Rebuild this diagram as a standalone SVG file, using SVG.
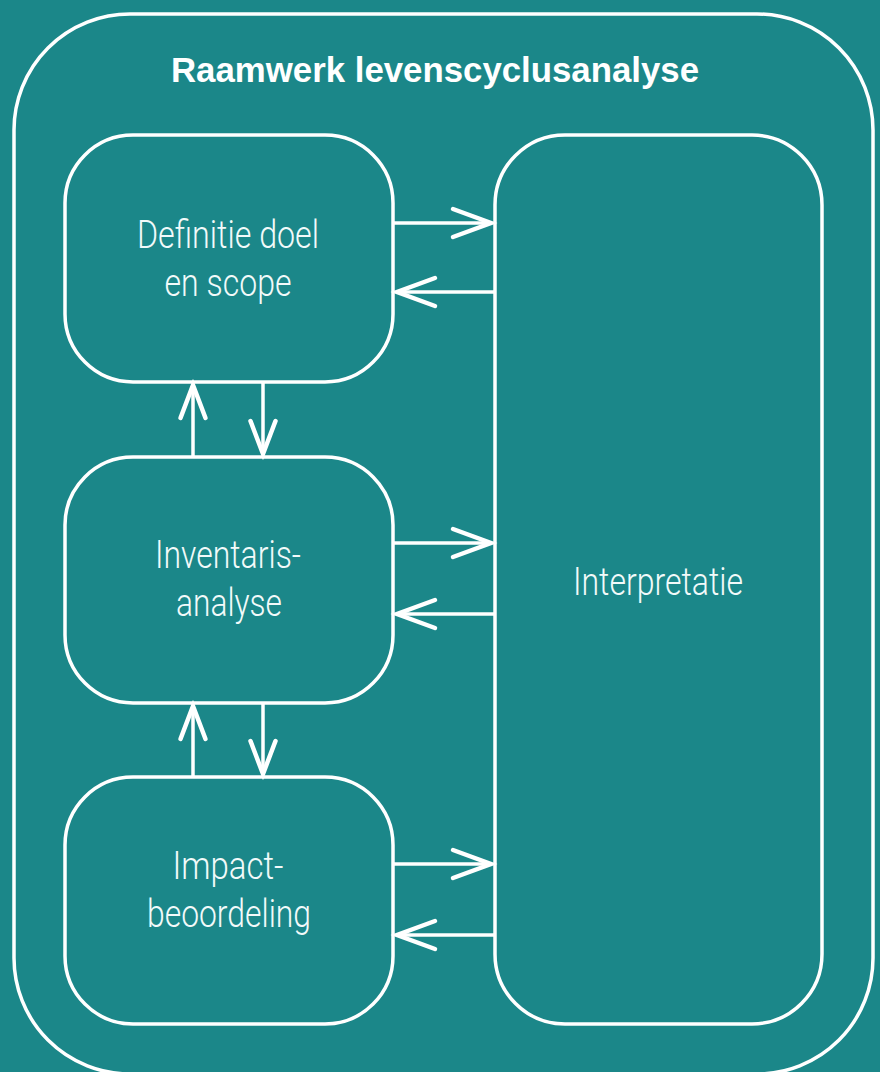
<svg xmlns="http://www.w3.org/2000/svg" width="880" height="1072" viewBox="0 0 880 1072">
  <defs>
    <style>
      .box { fill: none; stroke: #ffffff; stroke-width: 3.5; }
      .conn { fill: none; stroke: #ffffff; stroke-width: 3.5; }
      .lbl { font-family: Roboto, "Liberation Sans", sans-serif; font-weight: 300; font-size: 38px; fill: #f2fafa; text-anchor: middle; }
      .title { font-family: "Liberation Sans", Arial, sans-serif; font-weight: bold; font-size: 35px; fill: #ffffff; text-anchor: middle; }
    </style>
    <marker id="ah" markerUnits="userSpaceOnUse" markerWidth="50" markerHeight="40" viewBox="-45 -20 50 40" refX="0" refY="0" orient="auto" overflow="visible">
      <path d="M-38,-14 L0,0 L-38,14" fill="none" stroke="#ffffff" stroke-width="4.5" stroke-linejoin="miter" stroke-linecap="round"/>
    </marker>
    <marker id="av" markerUnits="userSpaceOnUse" markerWidth="50" markerHeight="40" viewBox="-45 -20 50 40" refX="0" refY="0" orient="auto" overflow="visible">
      <path d="M-33,-12.5 L0,0 L-33,12.5" fill="none" stroke="#ffffff" stroke-width="4.5" stroke-linejoin="miter" stroke-linecap="round"/>
    </marker>
  </defs>

  <rect x="0" y="0" width="880" height="1072" fill="#1b8789"/>

  <g id="frame">
    <rect class="box" x="14" y="14" width="859" height="1060" rx="116" ry="116"/>
    <text class="title" x="435" y="82" textLength="528" lengthAdjust="spacingAndGlyphs">Raamwerk levenscyclusanalyse</text>
  </g>

  <g id="node-definitie">
    <rect class="box" x="65" y="135" width="328" height="247" rx="68" ry="68"/>
    <text class="lbl" x="228" y="248" textLength="182" lengthAdjust="spacingAndGlyphs">Definitie doel</text>
    <text class="lbl" x="228" y="296" textLength="127" lengthAdjust="spacingAndGlyphs">en scope</text>
  </g>

  <g id="node-inventaris">
    <rect class="box" x="65" y="457" width="328" height="246" rx="68" ry="68"/>
    <text class="lbl" x="228" y="568" textLength="146" lengthAdjust="spacingAndGlyphs">Inventaris-</text>
    <text class="lbl" x="229" y="616" textLength="106" lengthAdjust="spacingAndGlyphs">analyse</text>
  </g>

  <g id="node-impact">
    <rect class="box" x="65" y="777" width="328" height="247" rx="68" ry="68"/>
    <text class="lbl" x="228" y="879" textLength="111" lengthAdjust="spacingAndGlyphs">Impact-</text>
    <text class="lbl" x="229" y="927" textLength="164" lengthAdjust="spacingAndGlyphs">beoordeling</text>
  </g>

  <g id="node-interpretatie">
    <rect class="box" x="495" y="135" width="327" height="889" rx="70" ry="70"/>
    <text class="lbl" x="658" y="595" textLength="170" lengthAdjust="spacingAndGlyphs">Interpretatie</text>
  </g>

  <g id="connectors">
    <path class="conn" d="M393,223 H491" marker-end="url(#ah)"/>
    <path class="conn" d="M495,292 H397" marker-end="url(#ah)"/>
    <path class="conn" d="M393,543 H491" marker-end="url(#ah)"/>
    <path class="conn" d="M495,614 H397" marker-end="url(#ah)"/>
    <path class="conn" d="M393,864 H491" marker-end="url(#ah)"/>
    <path class="conn" d="M495,935 H397" marker-end="url(#ah)"/>
    <path class="conn" d="M193,457 V385" marker-end="url(#av)"/>
    <path class="conn" d="M263,382 V454" marker-end="url(#av)"/>
    <path class="conn" d="M193,777 V706" marker-end="url(#av)"/>
    <path class="conn" d="M263,703 V774" marker-end="url(#av)"/>
  </g>
</svg>
